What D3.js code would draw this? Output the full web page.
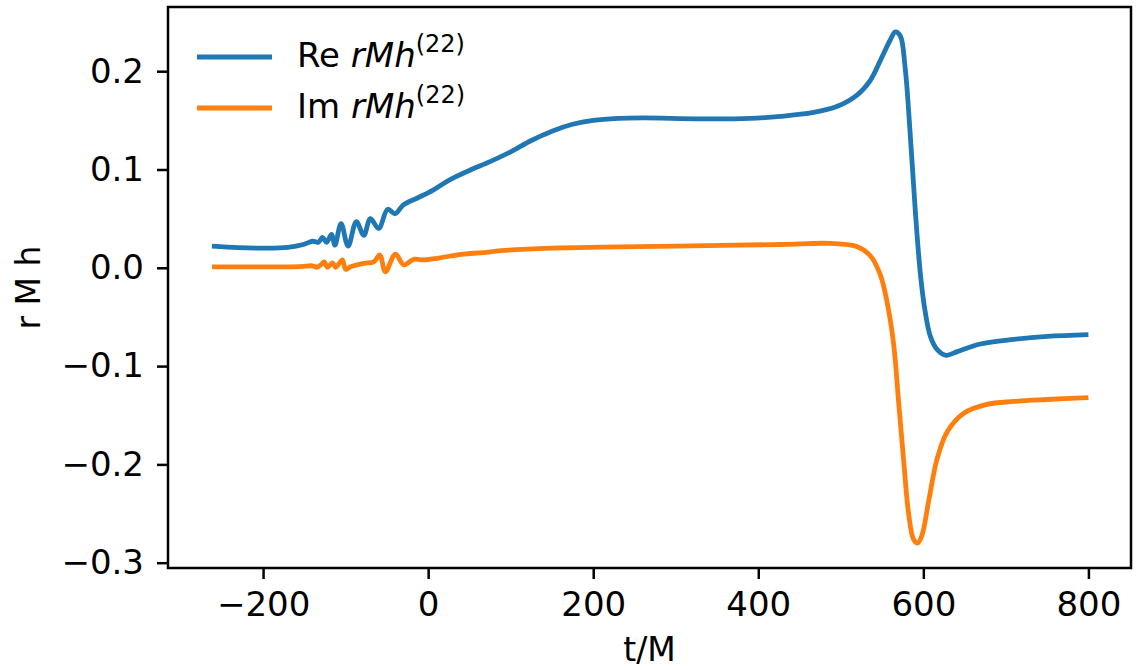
<!DOCTYPE html>
<html>
<head>
<meta charset="utf-8">
<script src="https://cdn.jsdelivr.net/npm/d3@7"></script>
<style>
  html, body { margin: 0; padding: 0; background: #fff; }
  text { font-family: "DejaVu Sans", sans-serif; }
</style>
</head>
<body>
<svg id="chart" width="1142" height="670"></svg>
<script>
// ---- data ----
const reT = [-262, -230, -200, -170, -150, -140, -133, -128, -123, -117, -113, -105.5, -97, -87, -78, -70, -60, -49, -40, -30, -13, 6, 25, 50, 75, 100, 125, 150, 175, 200, 230, 260, 330, 390, 427, 467, 495, 520, 536, 548, 560, 566, 572, 578, 584, 590.5, 596.5, 602.5, 608.6, 616.6, 627.5, 641, 669, 709.5, 750, 800];
const reV = [0.022, 0.0205, 0.020, 0.0208, 0.024, 0.027, 0.026, 0.031, 0.026, 0.034, 0.023, 0.045, 0.022, 0.047, 0.033, 0.050, 0.040, 0.0595, 0.055, 0.064, 0.071, 0.079, 0.089, 0.099, 0.108, 0.118, 0.1295, 0.139, 0.146, 0.150, 0.152, 0.1525, 0.1515, 0.152, 0.154, 0.158, 0.164, 0.176, 0.191, 0.211, 0.232, 0.240, 0.236, 0.203, 0.137, 0.055, -0.007, -0.046, -0.070, -0.083, -0.089, -0.0853, -0.0775, -0.0728, -0.0698, -0.068];
const imT = [-262, -200, -155, -140, -135, -130, -126, -122, -116, -112, -104, -100, -94, -78, -66, -58.6, -51.8, -39.6, -29.5, -17.4, -5, 11, 27, 43, 67, 88, 150, 209, 300, 427, 487, 520, 536, 548, 556, 564, 570, 576, 582, 588, 593, 598.4, 606.5, 616.6, 628.8, 649, 677, 709.5, 750, 800];
const imV = [0.001, 0.001, 0.0012, 0.002, 0.0005, 0.003, 0.006, 0.0005, 0.005, 0.0005, 0.008, -0.0015, 0.001, 0.0045, 0.006, 0.013, -0.004, 0.014, 0.003, 0.0086, 0.008, 0.0097, 0.012, 0.014, 0.0154, 0.0174, 0.020, 0.021, 0.022, 0.0237, 0.0248, 0.0215, 0.012, -0.0075, -0.0347, -0.0775, -0.136, -0.1946, -0.249, -0.276, -0.280, -0.272, -0.237, -0.1946, -0.167, -0.148, -0.139, -0.136, -0.134, -0.132];
const xTicks = [-200, 0, 200, 400, 600, 800];
const yTicks = [-0.3, -0.2, -0.1, 0.0, 0.1, 0.2];
const seriesNames = ["Re", "Im"];
const seriesColors = ["#1f77b4", "#ff7f0e"];
const xLabel = "t/M";
const yLabel = "r M h";

// ---- layout ----
const W = 1142, H = 670;
const m = { left: 168, top: 7, right: 11, bottom: 102 };
const iw = W - m.left - m.right, ih = H - m.top - m.bottom;
const fs = 34, fsLab = 33;

const svg = d3.select("#chart");
svg.append("rect").attr("width", W).attr("height", H).attr("fill", "#fff");
const g = svg.append("g").attr("transform", `translate(${m.left},${m.top})`);

const x = d3.scaleLinear().domain([-315.2, 851.6]).range([0, iw]);
const y = d3.scaleLinear().domain([-0.3054, 0.2653]).range([ih, 0]);

const series = [
  { t: reT, v: reV, color: seriesColors[0] },
  { t: imT, v: imV, color: seriesColors[1] }
];

const line = d3.line()
  .x(d => x(d[0]))
  .y(d => y(d[1]))
  .curve(d3.curveCatmullRom.alpha(0.5));

g.append("defs").append("clipPath").attr("id", "clip")
  .append("rect").attr("width", iw).attr("height", ih);

series.forEach(s => {
  g.append("path")
    .datum(s.t.map((t, i) => [t, s.v[i]]))
    .attr("clip-path", "url(#clip)")
    .attr("fill", "none")
    .attr("stroke", s.color)
    .attr("stroke-width", 4.8)
    .attr("stroke-linejoin", "round")
    .attr("stroke-linecap", "butt")
    .attr("d", line);
});

// axes
const xAxis = d3.axisBottom(x).tickValues(xTicks).tickSize(11).tickPadding(13).tickFormat(d3.format("d"));
const yAxis = d3.axisLeft(y).tickValues(yTicks).tickSize(11).tickPadding(13).tickFormat(d3.format(".1f"));

const gx = g.append("g").attr("transform", `translate(0,${ih})`).call(xAxis);
const gy = g.append("g").call(yAxis);
[gx, gy].forEach(a => {
  a.select(".domain").remove();
  a.selectAll(".tick line").attr("stroke", "#000").attr("stroke-width", 2.5);
  a.selectAll(".tick text").attr("fill", "#000").style("font-size", fs + "px").style("font-family", "DejaVu Sans");
});

// frame
g.append("rect").attr("width", iw).attr("height", ih)
  .attr("fill", "none").attr("stroke", "#000").attr("stroke-width", 2.5);

// axis labels
svg.append("text").attr("x", m.left + iw / 2).attr("y", 661)
  .attr("text-anchor", "middle").style("font-size", fsLab + "px").text(xLabel);
svg.append("text")
  .attr("transform", `translate(28,${m.top + ih / 2}) rotate(-90)`)
  .attr("text-anchor", "middle").attr("dominant-baseline", "central")
  .style("font-size", fsLab + "px").text(yLabel);

// legend
const leg = svg.append("g");
const legY = [57, 108];
seriesNames.forEach((name, i) => {
  leg.append("line").attr("x1", 197).attr("x2", 272).attr("y1", legY[i]).attr("y2", legY[i])
    .attr("stroke", seriesColors[i]).attr("stroke-width", 4.8);
  const t = leg.append("text").attr("x", 297).attr("y", legY[i] + 10).style("font-size", fs + "px");
  t.append("tspan").text(name + " ");
  t.append("tspan").style("font-style", "italic").text("rMh");
  t.append("tspan").attr("dy", -15).style("font-size", "24px").text("(22)");
});
</script>
</body>
</html>
